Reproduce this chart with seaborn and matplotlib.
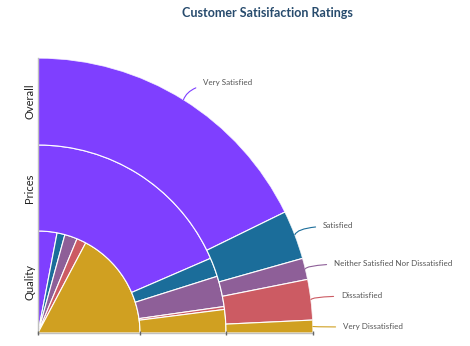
import numpy as np
import matplotlib
matplotlib.use("Agg")
import matplotlib.pyplot as plt
import seaborn as sns

# ---- data ----
title = "Customer Satisifaction Ratings"
rings = ["Quality", "Prices", "Overall"]
ratings = ["Very Satisfied", "Satisfied", "Neither Satisfied Nor Dissatisfied",
           "Dissatisfied", "Very Dissatisfied"]
quality = [12, 5, 8, 6, 69]
prices = [74, 6.5, 10.5, 1, 8]
overall = [71, 11.5, 5, 9.5, 3]
colors = ["#7f3fff", "#1b6d9a", "#8e5f98", "#cc5b63", "#d0a021"]

series = [quality, prices, overall]
ring_edges = [0, 102, 188, 275]  # ring boundaries (pixels of outer radius 275)

sns.set_theme(style="white")
plt.rcParams["font.family"] = ["Lato", "DejaVu Sans"]

W, H = 470, 346
fig = plt.figure(figsize=(W / 100, H / 100), dpi=100)
R = ring_edges[-1]
ax = fig.add_axes([38 / W, (H - 333) / H, R / W, R / H], projection="polar")
ax.set_thetamin(0)
ax.set_thetamax(90)
ax.set_ylim(0, R)

for i, vals in enumerate(series):
    vals = np.asarray(vals, dtype=float)
    ang = np.deg2rad(vals / vals.sum() * 90)
    starts = np.pi / 2 - np.cumsum(ang)
    ax.bar(starts, ring_edges[i + 1] - ring_edges[i], width=ang, bottom=ring_edges[i],
           align="edge", color=colors, edgecolor="white", linewidth=0.8)

ax.grid(False)
ax.set_xticks([])
ax.set_yticks([])
ax.spines["polar"].set_visible(False)
ax.spines["inner"].set_visible(False)
for s in ("start", "end"):
    ax.spines[s].set_color("#c0c0c0")
    ax.spines[s].set_linewidth(1.0)

# small tick marks at the ring boundaries along the bottom axis
ax.plot(np.zeros(len(ring_edges)), ring_edges, linestyle="none", marker="|",
        markersize=3.5, markeredgewidth=1.0, color="#666666", clip_on=False, zorder=5)

# ring labels along the vertical axis
for i, name in enumerate(rings):
    mid = (ring_edges[i] + ring_edges[i + 1]) / 2
    ax.annotate(name, xy=(np.pi / 2, mid), xytext=(-2, 0), textcoords="offset points",
                rotation=90, ha="right", va="center", fontsize=8, color="#222222")

# data labels for the outer ring
ov = np.asarray(overall, dtype=float)
ang = ov / ov.sum() * 90
mids = 90 - (np.cumsum(ang) - ang / 2)
label_pos = [(203, 83), (323, 226), (334, 263), (341, 296), (343, 327)]
for name, m, c, (lx, ly) in zip(ratings, mids, colors, label_pos):
    ax.annotate(name, xy=(np.deg2rad(m), R), xytext=(lx, H - ly), textcoords="figure pixels",
                ha="left", va="center", fontsize=5.8, color="#555555",
                arrowprops=dict(arrowstyle="-", color=c, lw=0.8, shrinkA=3, shrinkB=0,
                                connectionstyle="angle3,angleA=0,angleB=70"))

fig.text(267.5 / W, 1 - 13 / H, title, ha="center", va="center", fontsize=9,
         fontweight="bold", color="#274b6d")

fig.savefig("out.png", dpi=100)
